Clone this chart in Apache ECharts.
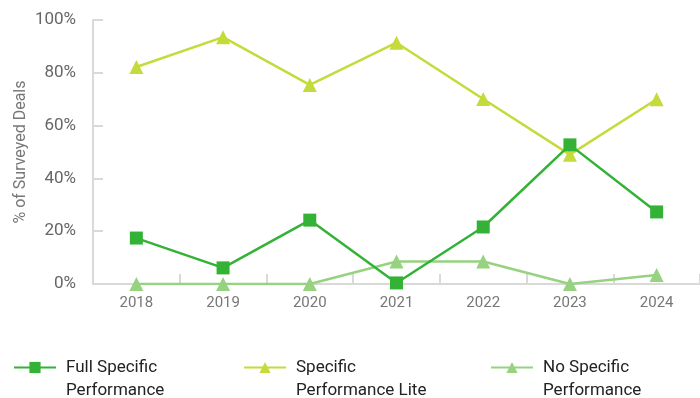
<!DOCTYPE html>
<html>
<head>
<meta charset="utf-8">
<script src="https://cdn.jsdelivr.net/npm/echarts@6/dist/echarts.min.js"></script>
<style>
  html, body { margin: 0; padding: 0; background: #fff; }
  #chart { width: 700px; height: 398px; }
</style>
</head>
<body>
<div id="chart"></div>
<script>
// Survey years
var years = ['2018', '2019', '2020', '2021', '2022', '2023', '2024'];

// Share of surveyed deals (%) per remedy type
var fullSpecific = [17.4, 6.1, 24.2, 0.4, 21.6, 52.7, 27.3];
var specificLite = [82.2, 93.5, 75.4, 91.4, 70.1, 49.0, 70.0];
var noSpecific = [0, 0, 0, 8.5, 8.5, 0, 3.4];

var seriesNames = ['Full Specific Performance', 'Specific Performance Lite', 'No Specific Performance'];
// Two-line legend labels; the leading blank line keeps the icon level with the first line
var legendLabels = {
  'Full Specific Performance': '\nFull Specific\nPerformance',
  'Specific Performance Lite': '\nSpecific\nPerformance Lite',
  'No Specific Performance': '\nNo Specific\nPerformance'
};

var FONT = 'Roboto, "Noto Sans", sans-serif';
var GREY_LINE = '#d9d9d9';

function legendAt(name, left) {
  return {
    data: [name],
    left: left,
    top: 333,
    itemWidth: 42,
    itemHeight: 14,
    itemGap: 0,
    padding: 0,
    selectedMode: false,
    formatter: function (n) { return legendLabels[n]; },
    textStyle: {
      fontFamily: FONT,
      fontSize: 17,
      color: '#222',
      lineHeight: 23,
      padding: [0, 0, 0, 5]
    }
  };
}

var chart = echarts.init(document.getElementById('chart'), null, { renderer: 'canvas' });
chart.setOption({
  animation: false,
  backgroundColor: '#fff',
  grid: { left: 93, right: 0, top: 20, bottom: 114, containLabel: false },
  legend: [
    legendAt(seriesNames[0], 13),
    legendAt(seriesNames[1], 243),
    legendAt(seriesNames[2], 490)
  ],
  xAxis: {
    type: 'category',
    data: years,
    boundaryGap: true,
    axisLine: { lineStyle: { color: GREY_LINE, width: 2 } },
    axisTick: { show: true, inside: true, length: 10, lineStyle: { color: GREY_LINE, width: 2 } },
    axisLabel: { fontFamily: FONT, fontSize: 15, color: '#777', margin: 12 },
    splitLine: { show: false }
  },
  yAxis: {
    type: 'value',
    min: 0,
    max: 100,
    interval: 20,
    name: '% of Surveyed Deals',
    nameLocation: 'middle',
    nameGap: 64,
    nameMoveOverlap: false,
    nameRotate: 90,
    nameTextStyle: { fontFamily: FONT, fontSize: 16, color: '#777' },
    axisLine: { show: true, lineStyle: { color: GREY_LINE, width: 2 } },
    axisTick: { show: true, inside: true, length: 10, lineStyle: { color: GREY_LINE, width: 2 } },
    axisLabel: { formatter: '{value}%', fontFamily: FONT, fontSize: 17, color: '#666', margin: 17 },
    splitLine: { show: false }
  },
  series: [
    {
      name: seriesNames[1],
      type: 'line',
      data: specificLite,
      symbol: 'triangle',
      symbolSize: 14,
      z: 3,
      itemStyle: { color: '#c5da3b' },
      lineStyle: { color: '#c5da3b', width: 2.5 }
    },
    {
      name: seriesNames[2],
      type: 'line',
      data: noSpecific,
      symbol: 'triangle',
      symbolSize: 14,
      z: 2,
      itemStyle: { color: '#96d27f' },
      lineStyle: { color: '#96d27f', width: 2.5 }
    },
    {
      name: seriesNames[0],
      type: 'line',
      data: fullSpecific,
      symbol: 'rect',
      symbolSize: 13,
      z: 4,
      itemStyle: { color: '#33b236' },
      lineStyle: { color: '#33b236', width: 2.5 }
    }
  ]
});
</script>
</body>
</html>
